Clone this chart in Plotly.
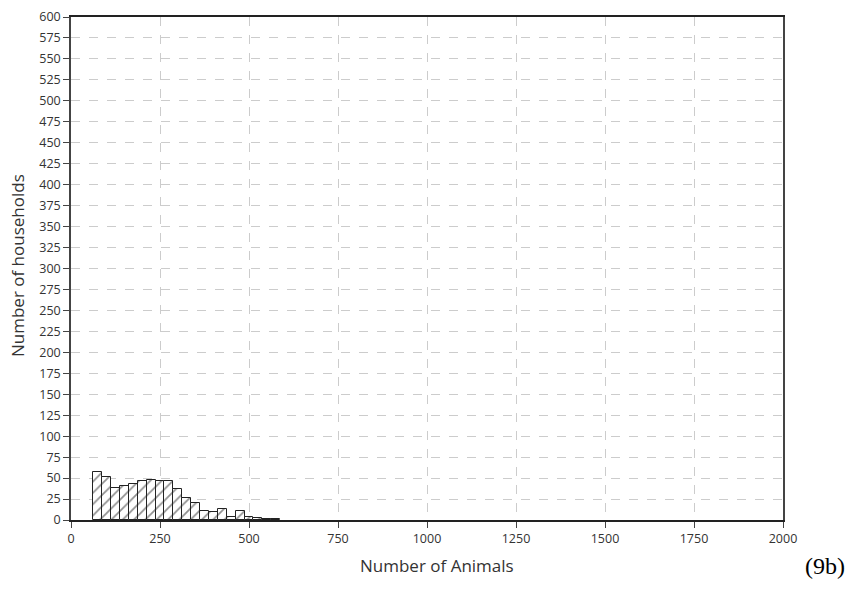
import plotly.graph_objects as go

bin_centers = [75, 100, 125, 150, 175, 200, 225, 250, 275, 300, 325, 350, 375, 400,
               425, 450, 475, 500, 525, 550, 575]
households = [57, 51, 38, 40, 43, 47, 48, 46, 47, 37, 26, 20, 11, 9, 13, 3, 11, 4, 2, 1.5, 1]
bin_width = 25

x_ticks = [0, 250, 500, 750, 1000, 1250, 1500, 1750, 2000]
y_ticks = list(range(0, 601, 25))

fig = go.Figure()
fig.add_trace(go.Bar(
    x=bin_centers, y=households, width=[bin_width] * len(bin_centers),
    marker=dict(color="white", line=dict(color="#222222", width=1),
                pattern=dict(shape="/", fgcolor="#222222", bgcolor="white",
                             size=8, solidity=0.22)),
    showlegend=False,
))

font = "Open Sans, Noto Sans, sans-serif"
fig.update_layout(
    width=853, height=600,
    margin=dict(l=71, r=70, t=17, b=80),
    plot_bgcolor="white", paper_bgcolor="white",
    bargap=0,
    font=dict(family=font, size=12.5, color="#333333"),
    xaxis=dict(range=[0, 2000], tickvals=x_ticks, ticks="outside", ticklen=6,
               tickcolor="#444444", showline=True, linecolor="#222222", linewidth=1.5,
               mirror=True, showgrid=True, gridcolor="#cccccc", griddash="dash",
               gridwidth=1, zeroline=False, automargin=False),
    yaxis=dict(range=[0, 600], tickvals=y_ticks, ticks="outside", ticklen=6,
               tickcolor="#444444", showline=True, linecolor="#444444", linewidth=1.5,
               mirror=True, showgrid=True, gridcolor="#cccccc", griddash="dash",
               gridwidth=1, zeroline=False, automargin=False),
    annotations=[
        dict(text="Number of Animals", xref="paper", yref="paper", x=0.514, y=-0.09,
             xanchor="center", yanchor="middle", showarrow=False,
             font=dict(size=17, color="#333333")),
        dict(text="Number of households", xref="paper", yref="paper", x=-0.0744, y=0.505,
             xanchor="center", yanchor="middle", showarrow=False, textangle=-90,
             font=dict(size=17, color="#333333")),
        dict(text="(9b)", xref="paper", yref="paper", x=1.059, y=-0.092,
             xanchor="center", yanchor="middle", showarrow=False,
             font=dict(family="Liberation Serif, Times New Roman, serif",
                       size=24, color="black")),
    ],
)

fig.write_html("out.html", config={"displayModeBar": False},
               post_script="document.body.style.margin='0px';")
